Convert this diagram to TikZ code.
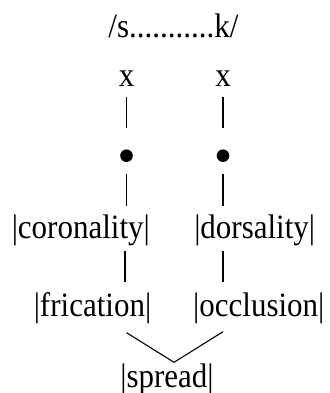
\documentclass[tikz,border=0pt]{standalone}
\usepackage{fontspec}
\setmainfont{Liberation Serif}
\newcommand{\vstr}[1]{\scalebox{1}[1.1]{#1}}
\begin{document}
\begin{tikzpicture}[x=1pt,y=-1pt,
  lbl/.style={anchor=base,inner sep=0pt,font=\fontsize{31}{31}\selectfont},
  blob/.style={circle,fill=black,inner sep=0pt,minimum size=12.6pt},
  bar/.style={line width=1.4pt},
  vline/.style={line width=1.1pt}]
\useasboundingbox (0,0) rectangle (329,393);
\node[lbl] (top) at (173.4,37.3) {\vstr{/s...........k/}};
\node[lbl] (x1) at (126.5,86.7) {\vstr{x}};
\node[lbl] (x2) at (223,86.7) {\vstr{x}};
\node[blob] (d1) at (126.5,155.7) {};
\node[blob] (d2) at (223,155.7) {};
\node[lbl] (cor) at (80.8,238.3) {\vstr{|coronality|}};
\node[lbl] (dor) at (254.7,238.3) {\vstr{|dorsality|}};
\node[lbl] (fri) at (92.5,316.7) {\vstr{|frication|}};
\node[lbl] (occ) at (258.8,316.7) {\vstr{|occlusion|}};
\node[lbl] (spr) at (167,387) {\vstr{|spread|}};
\coordinate (apex) at (174,362.3);
% bars
\draw[bar,shorten <=10pt,shorten >=21pt] (x1.base) -- (d1.north);
\draw[bar,shorten <=10pt,shorten >=21pt] (x2.base) -- (d2.north);
\draw[bar,shorten <=11.3pt,shorten >=32.3pt] (d1.south) -- (d1 |- cor.base);
\draw[bar,shorten <=11.3pt,shorten >=32.3pt] (d2.south) -- (d2 |- dor.base);
\draw[bar,shorten <=12.4pt,shorten >=35pt] ([xshift=-1.5pt]cor.base -| d1) -- ([xshift=-1.5pt]fri.base -| d1);
\draw[bar,shorten <=12.4pt,shorten >=35pt] (dor.base -| d2) -- (occ.base -| d2);
% V
\draw[vline] ([yshift=-16pt]fri.base -| d1) -- (apex) -- ([yshift=-15pt]occ.base -| d2);
\end{tikzpicture}
\end{document}
